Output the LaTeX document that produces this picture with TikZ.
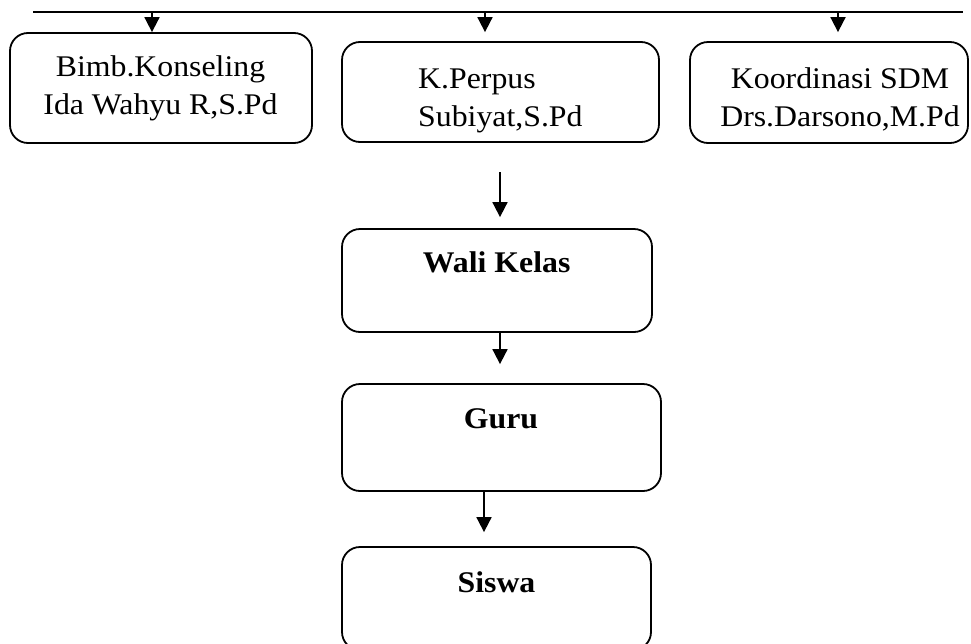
\documentclass[tikz,border=0pt]{standalone}
\usepackage{fontspec}
\setmainfont{Liberation Serif}[FakeStretch=1.06]
\usetikzlibrary{arrows.meta}
\tikzset{
  orgbox/.style={draw, line width=1.8pt, rounded corners=18pt, inner sep=0pt},
  boxtext/.style={font=\fontsize{30}{38}\selectfont, align=center, anchor=base, inner sep=0pt},
  titletext/.style={font=\fontsize{30}{38}\selectfont\bfseries, anchor=base, inner sep=0pt},
  conn/.style={line width=1.8pt},
  arr/.style={line width=1.8pt, -{Triangle[length=15pt,width=15pt]}}
}
\begin{document}
\begin{tikzpicture}[x=1pt, y=-1pt]
\useasboundingbox (0,0) rectangle (971,643);
\clip (0,0) rectangle (971,643);

% top row boxes
\node[orgbox, minimum width=302pt, minimum height=110pt] (bk) at (161,88) {};
\node[orgbox, minimum width=317pt, minimum height=100pt] (kp) at (500.5,92) {};
\node[orgbox, minimum width=278pt, minimum height=101pt] (sdm) at (829,92.5) {};
% two-line labels, placed by the baseline of their last line
\node[boxtext] (bkt) at (160.5,114.5) {Bimb.Konseling\\Ida Wahyu R,S.Pd};
\node[boxtext, align=left, anchor=base west] (kpt) at (418,126) {K.Perpus\\Subiyat,S.Pd};
\node[boxtext] (sdmt) at (840,126) {Koordinasi SDM\\Drs.Darsono,M.Pd};

% chain below
\node[orgbox, minimum width=310pt, minimum height=103pt] (wk) at (497,280.5) {};
\node[orgbox, minimum width=319pt, minimum height=107pt] (gr) at (501.5,437.5) {};
\node[orgbox, minimum width=309pt, minimum height=103pt] (sw) at (496.5,598.5) {};
\node[titletext] (wkt) at (496.7,272) {Wali Kelas};
\node[titletext] (grt) at (501,428) {Guru};
\node[titletext] (swt) at (496.5,592) {Siswa};

% distribution line and drops
\coordinate (lineL) at (33,12);
\coordinate (lineR) at (963,12);
\draw[conn] (lineL) -- (lineR);
\coordinate (d1) at (152,12);
\coordinate (d2) at (485,12);
\coordinate (d3) at (838,12);
\draw[arr] (d1) -- (d1 |- bk.north);
\draw[arr, shorten >=9pt] (d2) -- (d2 |- kp.north);
\draw[arr, shorten >=9pt] (d3) -- (d3 |- sdm.north);

% vertical arrows
\coordinate (f1) at (500,172);
\draw[arr, shorten >=11pt] (f1) -- (f1 |- wk.north);
\coordinate (f2) at (500,0);
\draw[arr, shorten >=19pt] (f2 |- wk.south) -- (f2 |- gr.north);
\coordinate (f3) at (484,0);
\draw[arr, shorten >=14pt] (f3 |- gr.south) -- (f3 |- sw.north);
\end{tikzpicture}
\end{document}
